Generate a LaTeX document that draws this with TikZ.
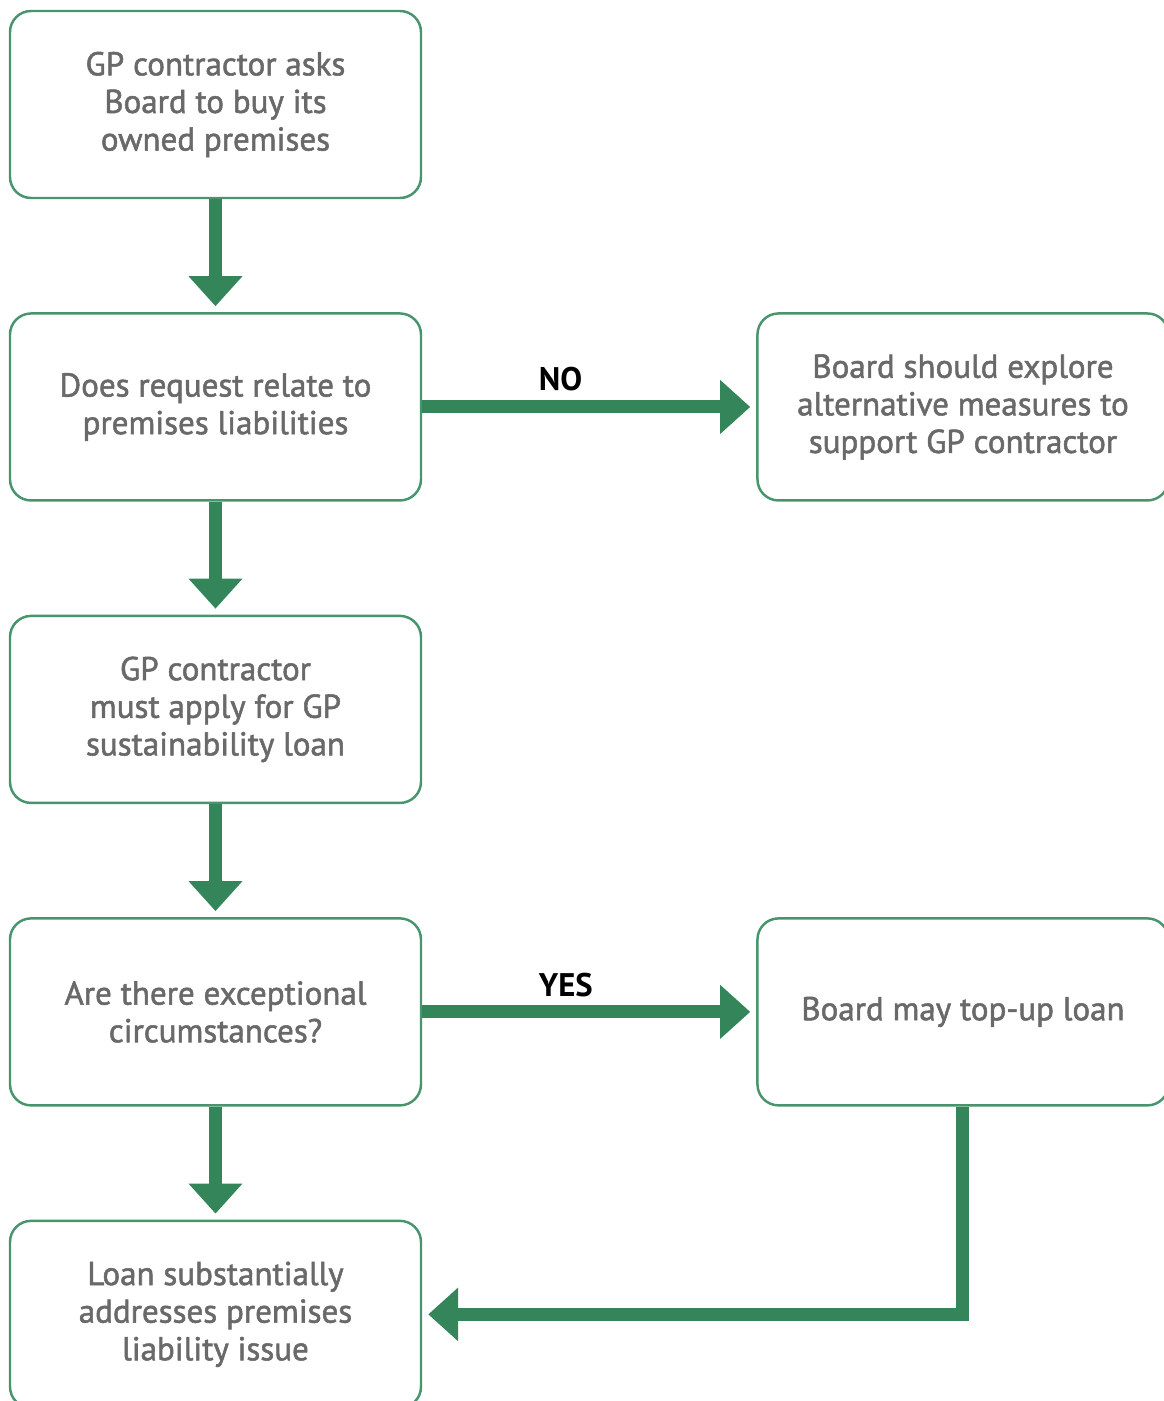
\documentclass[tikz,border=0pt]{standalone}
\usepackage{fontspec}
\setmainfont{PT Sans}
\newfontfamily\boxfont{PT Sans}[FakeBold=1.6]
\usepackage{xcolor}
\usepackage{tikz}
\usetikzlibrary{arrows.meta,positioning}
\definecolor{boxgreen}{RGB}{72,148,108}
\definecolor{arrowgreen}{RGB}{52,134,90}
\definecolor{textgrey}{RGB}{105,105,105}

\begin{document}
\begin{tikzpicture}[
  box/.style={draw=boxgreen, line width=0.7pt, rounded corners=6pt, minimum width=4.11cm, minimum height=1.87cm, align=center, text=textgrey, font=\boxfont\fontsize{9.4}{10.7}\selectfont},
  arrow/.style={-{Triangle[width=0.52cm,length=0.30cm]}, line width=0.13cm, draw=arrowgreen, shorten >=0.06cm},
  lbl/.style={font=\bfseries\fontsize{9.3}{10.7}\selectfont, text=black}
]
\useasboundingbox (0,0) rectangle (11.63,-14.01);
\node[box] (ask) at (2.155,-1.045) {GP contractor asks\\Board to buy its\\owned premises};
\node[box, below=1.13cm of ask] (relate) {Does request relate to\\premises liabilities};
\node[box, below=1.13cm of relate] (apply) {GP contractor\\must apply for GP\\sustainability loan};
\node[box, below=1.13cm of apply] (except) {Are there exceptional\\circumstances?};
\node[box, below=1.13cm of except] (loan) {Loan substantially\\addresses premises\\liability issue};
\node[box, right=3.34cm of relate] (explore) {Board should explore\\alternative measures to\\support GP contractor};
\node[box, right=3.34cm of except] (topup) {Board may top-up loan};
\draw[arrow] (ask) -- (relate);
\draw[arrow] (relate) -- (apply);
\draw[arrow] (apply) -- (except);
\draw[arrow] (except) -- (loan);
\draw[arrow] (relate) -- node[lbl, pos=0.414, yshift=0.28cm] (no) {NO} (explore);
\draw[arrow] (except) -- node[lbl, pos=0.43, yshift=0.27cm] (yes) {YES} (topup);
\draw[arrow] (topup.south) |- (loan.east);
\end{tikzpicture}
\end{document}
